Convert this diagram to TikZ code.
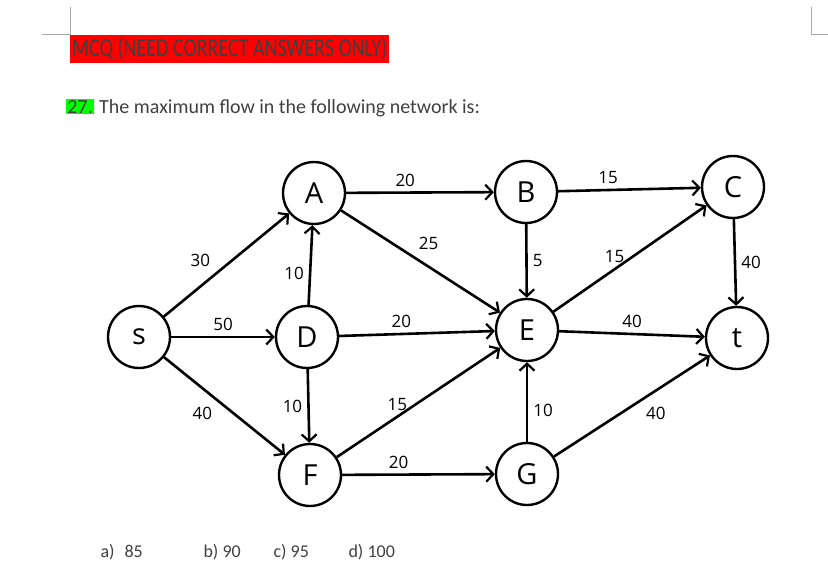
\documentclass[tikz,border=0pt]{standalone}
\usepackage{fontspec}
\setmainfont{Carlito}
\newfontfamily\graphfont{Open Sans}
\usetikzlibrary{arrows.meta}
\definecolor{markRed}{RGB}{255,0,0}
\definecolor{markGreen}{RGB}{0,255,0}
\definecolor{textGray}{RGB}{64,64,64}
\definecolor{cornerGray}{RGB}{170,170,170}

\tikzset{
  vertex/.style={circle, draw, line width=2.4pt, minimum size=62pt, inner sep=0pt,
    font=\graphfont\fontsize{29}{32}\selectfont},
  flow/.style={line width=2.6pt, -{Straight Barb[length=7pt,width=15pt,line width=2.2pt]}},
  weight/.style={font=\graphfont\fontsize{17}{19}\selectfont, inner sep=5pt},
  choice/.style={anchor=base west, text=textGray, font=\fontsize{18}{22}\selectfont},
}

\begin{document}
\begin{tikzpicture}[x=1pt,y=-1pt]
  \useasboundingbox (0,0) rectangle (828,579);

  % page corner marks
  \draw[cornerGray, line width=1pt] (70,7) -- (70,34) -- (42,34);
  \draw[cornerGray, line width=1pt] (811,7) -- (811,34) -- (828,34);

  % header and question
  \node[fill=markRed, text=textGray, anchor=west, inner sep=0pt, minimum height=28pt, minimum width=319pt] (hdr) at (70,49)
    {\scalebox{0.77}[1]{\fontsize{26}{28}\selectfont MCQ (NEED CORRECT ANSWERS ONLY)}};
  \node[anchor=base west, text=textGray, inner sep=0pt, font=\fontsize{20}{24}\selectfont] (qtext) at (99,113)
    {The maximum flow in the following network is:};
  \node[fill=markGreen, text=textGray, anchor=base east, inner sep=1pt, font=\fontsize{20}{24}\selectfont] (qnum) at (94,113) {27.};

  % vertices
  \node[vertex] (s) at (139,337) {s};
  \node[vertex] (A) at (314,193) {A};
  \node[vertex] (B) at (526,192) {B};
  \node[vertex] (C) at (733,187) {C};
  \node[vertex] (D) at (307,337) {D};
  \node[vertex] (E) at (527,330) {E};
  \node[vertex] (t) at (737,338) {t};
  \node[vertex] (F) at (310,475) {F};
  \node[vertex] (G) at (527,474) {G};

  % edges with capacities
  \draw[flow] (s) -- node[weight, pos=0.42, above left] {30} (A);
  \draw[flow] (s) -- node[weight, pos=0.5, above] {50} (D);
  \draw[flow] (s) -- node[weight, pos=0.45, below left] {40} (F);
  \draw[flow] (D) -- node[weight, pos=0.4, left] {10} (A);
  \draw[flow] (D) -- node[weight, pos=0.5, left] {10} (F);
  \draw[flow] (A) -- node[weight, pos=0.4, above] {20} (B);
  \draw[flow] (A) -- node[weight, pos=0.45, above right] {25} (E);
  \draw[flow] (D) -- node[weight, pos=0.4, above] {20} (E);
  \draw[flow] (F) -- node[weight, pos=0.37, above] {15} (E);
  \draw[flow] (F) -- node[weight, pos=0.37, above] {20} (G);
  \draw[flow] (G) -- node[weight, pos=0.4, right] {10} (E);
  \draw[flow] (G) -- node[weight, pos=0.55, below right] {40} (t);
  \draw[flow] (B) -- node[weight, pos=0.5, right] {5} (E);
  \draw[flow] (B) -- node[weight, pos=0.35, above] {15} (C);
  \draw[flow] (E) -- node[weight, pos=0.4, above] {15} (C);
  \draw[flow] (C) -- node[weight, pos=0.5, right] {40} (t);
  \draw[flow] (E) -- node[weight, pos=0.5, above] {40} (t);

  % answer choices
  \node[choice] (optA) at (97,557) {a)\hspace{10pt}85};
  \node[choice] (optB) at (200,557) {b) 90};
  \node[choice] (optC) at (270,557) {c) 95};
  \node[choice] (optD) at (345,557) {d) 100};
\end{tikzpicture}
\end{document}
